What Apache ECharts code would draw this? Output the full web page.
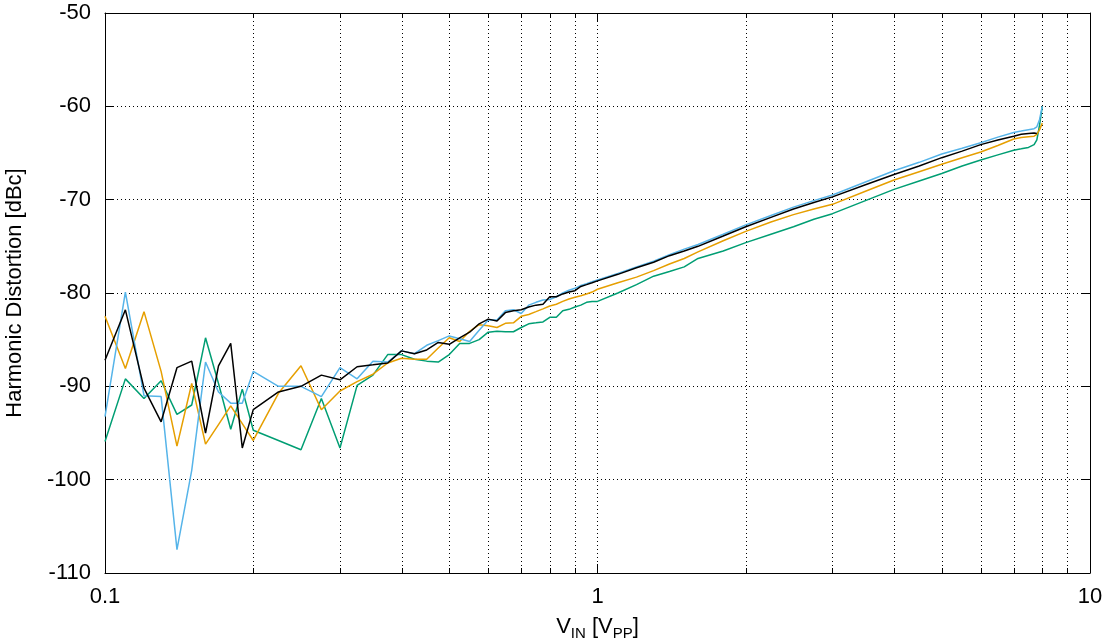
<!DOCTYPE html>
<html>
<head>
<meta charset="utf-8">
<script src="https://cdn.jsdelivr.net/npm/echarts@6/dist/echarts.min.js"></script>
<style>
html,body{margin:0;padding:0;background:#fff;}
#chart{width:1104px;height:644px;}
</style>
</head>
<body>
<div id="chart"></div>
<script>
// Input voltage (Vpp) sample points
const vin = [0.1,0.11,0.12,0.13,0.14,0.15,0.16,0.17,0.18,0.19,0.2,
  0.225,0.25,0.275,0.3,0.325,0.35,0.375,0.4,0.425,0.45,0.475,0.5,0.525,0.55,0.575,0.6,0.625,0.65,0.675,0.7,0.725,0.75,0.775,0.8,0.825,0.85,0.875,0.9,0.925,0.95,0.975,1.0,
  1.1,1.2,1.3,1.4,1.5,1.6,1.8,2.0,2.25,2.5,2.75,3.0,3.5,4.0,4.5,5.0,5.5,6.0,6.5,7.0,7.25,7.5,7.7,7.8,7.9,8.0];

// Harmonic distortion (dBc) per trace
const hdBlack = [-87.2,-81.8,-90.2,-93.8,-88.0,-87.3,-95.0,-87.8,-85.4,-96.6,-92.5,
  -90.6,-90.0,-88.8,-89.3,-87.9,-87.7,-87.5,-86.2,-86.5,-86.1,-85.3,-85.5,-84.8,-84.2,-83.3,-82.8,-83.0,-82.1,-81.9,-81.8,-81.5,-81.3,-81.2,-80.4,-80.4,-80.1,-79.9,-79.75,-79.3,-79.1,-78.9,-78.7,
  -78.0,-77.3,-76.7,-76.0,-75.5,-75.0,-73.9,-72.9,-71.9,-71.0,-70.3,-69.7,-68.4,-67.3,-66.4,-65.5,-64.8,-64.1,-63.6,-63.2,-63.0,-62.9,-62.85,-62.9,null,null];

const hdOrange = [-82.5,-88.1,-82.0,-88.4,-96.4,-89.7,-96.2,-94.1,-92.1,-94.0,-95.8,
  -90.75,-87.8,-92.5,-90.5,-89.5,-88.7,-87.5,-87.0,-87.1,-87.1,-85.9,-84.8,-85.2,-84.1,-83.4,-83.5,-83.7,-83.25,-83.2,-82.5,-82.3,-82.0,-81.7,-81.4,-81.2,-80.9,-80.65,-80.45,-80.3,-80.1,-79.9,-79.6,
  -78.9,-78.3,-77.6,-76.9,-76.3,-75.6,-74.4,-73.4,-72.4,-71.6,-71.0,-70.5,-69.1,-67.9,-67.0,-66.2,-65.5,-64.9,-64.2,-63.5,-63.35,-63.25,-63.2,-63.0,-62.5,-61.8];

const hdBlue = [-93.25,-79.9,-91.0,-91.1,-107.5,-99.0,-87.4,-90.6,-91.8,-91.8,-88.4,
  -90.0,-90.0,-91.1,-88.0,-89.2,-87.3,-87.4,-86.2,-86.5,-85.6,-85.1,-84.6,-84.9,-85.2,-84.0,-82.9,-82.9,-81.9,-81.8,-82.2,-81.3,-81.0,-80.75,-80.7,-80.4,-80.0,-79.7,-79.5,-79.2,-79.0,-78.8,-78.6,
  -77.9,-77.2,-76.6,-75.9,-75.3,-74.8,-73.7,-72.7,-71.7,-70.8,-70.1,-69.5,-68.1,-66.9,-66.0,-65.1,-64.5,-63.9,-63.3,-62.8,-62.65,-62.5,-62.4,-62.2,-61.4,-60.0];

const hdGreen = [-95.9,-89.2,-91.3,-89.4,-93.0,-92.0,-84.8,-89.7,-94.6,-90.3,-94.7,
  -95.8,-96.8,-91.3,-96.6,-89.9,-88.8,-86.6,-86.6,-87.1,-87.3,-87.4,-86.6,-85.4,-85.4,-85.0,-84.2,-84.1,-84.15,-84.15,-83.7,-83.3,-83.2,-83.1,-82.6,-82.6,-81.9,-81.75,-81.5,-81.3,-81.0,-80.9,-80.9,
  -80.0,-79.1,-78.2,-77.7,-77.2,-76.3,-75.5,-74.6,-73.7,-72.9,-72.1,-71.5,-70.1,-68.9,-68.0,-67.2,-66.4,-65.75,-65.2,-64.7,-64.55,-64.4,-64.1,-63.6,-62.0,-60.0];

// Axis tick values
const xMinorTicks = [0.2,0.3,0.4,0.5,0.6,0.7,0.8,0.9,2,3,4,5,6,7,8,9];

const FONT = 'Liberation Sans, Arial, sans-serif';
const FS = 22;
const dotted = [1, 3];

function pairs(ys){
  const out = [];
  for (let i = 0; i < vin.length; i++) {
    if (ys[i] !== null) out.push([vin[i], ys[i]]);
  }
  return out;
}

const chart = echarts.init(document.getElementById('chart'), null, {renderer: 'canvas'});

const lineSeries = (name, color, ys, z) => ({
  name, type: 'line', data: pairs(ys), showSymbol: false, symbol: 'none',
  lineStyle: {color, width: 1.5}, itemStyle: {color}, z, animation: false,
  xAxisIndex: 0, yAxisIndex: 0
});

const option = {
  backgroundColor: '#ffffff',
  animation: false,
  grid: {left: 105, right: 14, top: 13, bottom: 71, containLabel: false, outerBoundsMode: 'none'},
  xAxis: [{
    type: 'log', logBase: 10, min: 0.1, max: 10, position: 'bottom',
    name: '{m|V}{s|IN}{m| [V}{s|PP}{m|]}',
    nameLocation: 'middle', nameGap: 43,
    nameTextStyle: {
      rich: {
        m: {fontFamily: FONT, fontSize: FS, color: '#000', lineHeight: 26, verticalAlign: 'top'},
        s: {fontFamily: FONT, fontSize: 15, color: '#000', lineHeight: 26, verticalAlign: 'top', padding: [10, 0, 0, 0]}
      }
    },
    axisLine: {show: true, lineStyle: {color: '#000', width: 1}},
    axisTick: {show: true, inside: true, length: 9, lineStyle: {color: '#000'}},
    axisLabel: {show: true, color: '#000', fontFamily: FONT, fontSize: FS, margin: 13,
      formatter: v => String(v)},
    splitLine: {show: true, lineStyle: {color: '#000', width: 1, type: dotted}},
    minorTick: {show: false}
  }, {
    type: 'log', logBase: 10, min: 0.1, max: 10, position: 'top',
    axisLine: {show: true, lineStyle: {color: '#000', width: 1}},
    axisTick: {show: true, inside: true, length: 9, lineStyle: {color: '#000'}},
    axisLabel: {show: false},
    splitLine: {show: false}
  }],
  yAxis: [{
    type: 'value', min: -110, max: -50, interval: 10, position: 'left',
    name: 'Harmonic Distortion [dBc]', nameLocation: 'middle', nameGap: 79, nameRotate: 90,
    nameTextStyle: {fontFamily: FONT, fontSize: FS, color: '#000'},
    axisLine: {show: true, lineStyle: {color: '#000', width: 1}},
    axisTick: {show: true, inside: true, length: 9, lineStyle: {color: '#000'}},
    axisLabel: {show: true, color: '#000', fontFamily: FONT, fontSize: FS, margin: 14},
    splitLine: {show: true, lineStyle: {color: '#000', width: 1, type: dotted}}
  }, {
    type: 'value', min: -110, max: -50, interval: 10, position: 'right',
    axisLine: {show: true, lineStyle: {color: '#000', width: 1}},
    axisTick: {show: true, inside: true, length: 9, lineStyle: {color: '#000'}},
    axisLabel: {show: false},
    splitLine: {show: false}
  }],
  series: [
    {
      type: 'custom', name: 'minorGrid', silent: true, z: 1,
      xAxisIndex: 0, yAxisIndex: 0,
      data: xMinorTicks.map(v => [v, -110]),
      encode: {x: 0, y: 1},
      renderItem: function (params, api) {
        const x = Math.round(api.coord([api.value(0), -110])[0]) + 0.5;
        const cs = params.coordSys;
        const top = cs.y, bottom = cs.y + cs.height;
        return {
          type: 'group',
          children: [
            {type: 'line', shape: {x1: x, y1: top, x2: x, y2: bottom},
              style: {stroke: '#000', lineWidth: 1, lineDash: dotted}},
            {type: 'line', shape: {x1: x, y1: bottom, x2: x, y2: bottom - 5},
              style: {stroke: '#000', lineWidth: 1}},
            {type: 'line', shape: {x1: x, y1: top, x2: x, y2: top + 5},
              style: {stroke: '#000', lineWidth: 1}}
          ]
        };
      }
    },
    lineSeries('green', '#009E73', hdGreen, 3),
    lineSeries('orange', '#E69F00', hdOrange, 4),
    lineSeries('blue', '#56B4E9', hdBlue, 5),
    lineSeries('black', '#000000', hdBlack, 6)
  ]
};

chart.setOption(option);
</script>
</body>
</html>
